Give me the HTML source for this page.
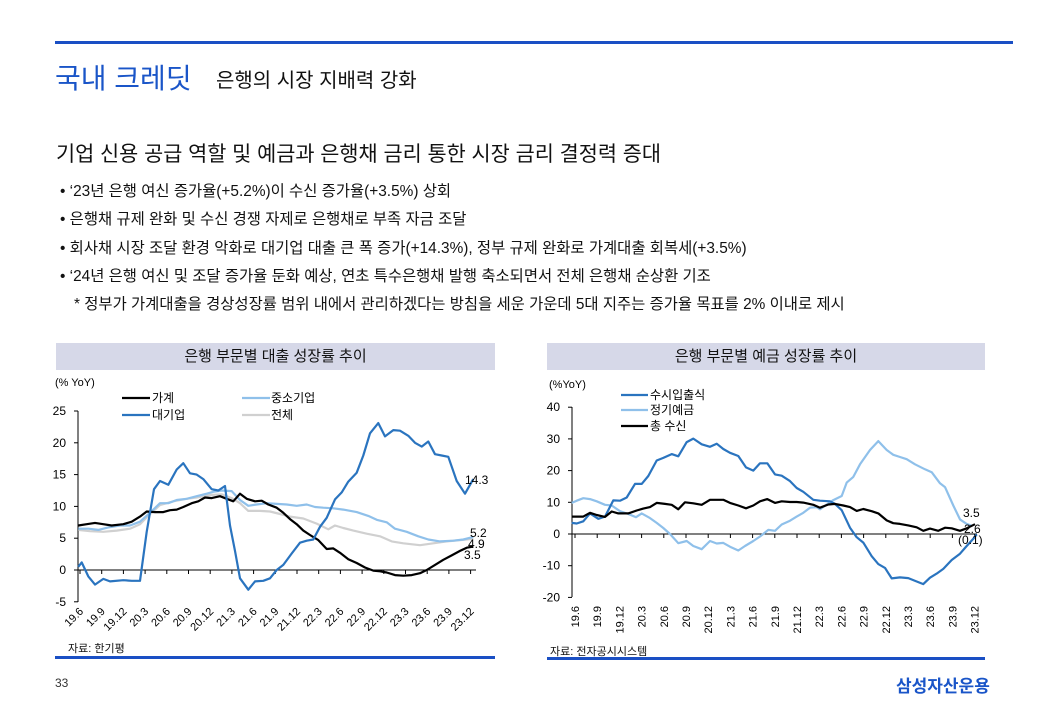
<!DOCTYPE html>
<html><head><meta charset="utf-8"><style>
body{margin:0;width:1040px;height:720px;background:#fff;position:relative;overflow:hidden;font-family:"Liberation Sans","Noto Sans CJK KR",sans-serif;color:#111}
.a{position:absolute;white-space:nowrap}
.b{font-size:15.4px}
</style></head><body>
<div class="a" style="left:55px;top:41px;width:958px;height:3px;background:#1a4fc4"></div>
<div class="a" style="left:55px;top:57px;font-size:28px;color:#1a55c8">국내 크레딧</div>
<div class="a" style="left:216px;top:64px;font-size:20px">은행의 시장 지배력 강화</div>
<div class="a" style="left:56px;top:137px;font-size:20.8px">기업 신용 공급 역할 및 예금과 은행채 금리 통한 시장 금리 결정력 증대</div>
<div class="a b" style="left:60px;top:179px">• ‘23년 은행 여신 증가율(+5.2%)이 수신 증가율(+3.5%) 상회</div>
<div class="a b" style="left:60px;top:207px">• 은행채 규제 완화 및 수신 경쟁 자제로 은행채로 부족 자금 조달</div>
<div class="a b" style="left:60px;top:236px">• 회사채 시장 조달 환경 악화로 대기업 대출 큰 폭 증가(+14.3%), 정부 규제 완화로 가계대출 회복세(+3.5%)</div>
<div class="a b" style="left:60px;top:264px">• ‘24년 은행 여신 및 조달 증가율 둔화 예상, 연초 특수은행채 발행 축소되면서 전체 은행채 순상환 기조</div>
<div class="a b" style="left:74px;top:292px">* 정부가 가계대출을 경상성장률 범위 내에서 관리하겠다는 방침을 세운 가운데 5대 지주는 증가율 목표를 2% 이내로 제시</div>
<div class="a" style="left:56px;top:343px;width:439px;height:27px;background:#d6d8e8;text-align:center;font-size:15px;line-height:27px">은행 부문별 대출 성장률 추이</div>
<div class="a" style="left:547px;top:343px;width:438px;height:27px;background:#d6d8e8;text-align:center;font-size:15px;line-height:27px">은행 부문별 예금 성장률 추이</div>
<div class="a" style="left:55px;top:656px;width:440px;height:3px;background:#1a4fc4"></div>
<div class="a" style="left:547px;top:657px;width:438px;height:3px;background:#1a4fc4"></div>
<div class="a" style="left:68px;top:640px;font-size:11px">자료: 한기평</div>
<div class="a" style="left:550px;top:643px;font-size:11px">자료: 전자공시시스템</div>
<div class="a" style="left:55px;top:676px;font-size:12px;color:#333">33</div>
<div class="a" style="left:896px;top:672px;font-size:17px;font-weight:bold;color:#1a55c8">삼성자산운용</div>
<svg id="s" class="a" style="left:0;top:0" width="1040" height="720" font-family="Liberation Sans, Noto Sans CJK KR, sans-serif" font-size="12"></svg>
<script>
var s=document.getElementById('s'),h='';
function L(x1,y1,x2,y2,c,w){h+='<line x1="'+x1+'" y1="'+y1+'" x2="'+x2+'" y2="'+y2+'" stroke="'+c+'" stroke-width="'+(w||1)+'"/>';}
function T(x,y,t,a,ex){h+='<text x="'+x+'" y="'+y+'" text-anchor="'+(a||'start')+'" '+(ex||'')+'>'+t+'</text>';}
function P(pts,ox,z,sc,c){var p=[];for(var i=0;i<pts.length;i+=2)p.push((ox+pts[i]/3).toFixed(1)+','+(z-pts[i+1]*sc).toFixed(1));h+='<polyline points="'+p.join(' ')+'" fill="none" stroke="'+c+'" stroke-width="2.2" stroke-linejoin="round"/>';}
var z1=570,s1=6.36;
L(78,411,78,602,'#000');L(78,z1,476,z1,'#000');
[25,20,15,10,5,0,-5].forEach(function(v){var y=z1-v*s1;L(74,y,78,y,'#000');T(66,y+4,v,'end');});
var lq=['19.6','19.9','19.12','20.3','20.6','20.9','20.12','21.3','21.6','21.9','21.12','22.3','22.6','22.9','22.12','23.3','23.6','23.9','23.12'];
lq.forEach(function(t,k){var x=80+k*21.7;L(x,z1,x,z1+4,'#000');T(x+4,612,t,'end','font-size="11" transform="rotate(-45 '+(x+4)+' 612)"');});
T(55,386,'(% YoY)','start','font-size="11"');
L(122,398,150,398,'#000',2.2);L(122,415,150,415,'#2a74bf',2.2);L(242,398,270,398,'#8fc0ea',2.2);L(242,415,270,415,'#d0d0d0',2.2);
T(152,402,'가계');T(152,419,'대기업');T(271,402,'중소기업');T(271,419,'전체');
P([115,6.3,150,6.1,190,6,230,6.2,270,6.5,300,7.2,330,8.8,360,10.2,400,10.8,440,11.2,470,11.4,510,11.8,545,11.9,575,11.3,600,10.5,625,9.3,660,9.3,690,9.2,720,8.8,750,8.4,790,8.1,830,7.3,865,6.4,885,7,910,6.6,940,6.2,980,5.7,1020,5.3,1055,4.5,1090,4.2,1140,3.9,1180,4.2,1220,4.5,1260,4.7,1300,4.9],40,z1,s1,'#d0d0d0');
P([115,6.5,145,6.5,175,6.3,205,6.7,240,7,270,7,300,7.6,330,9,360,10.5,385,10.5,410,11,440,11.2,470,11.6,500,12,520,12.3,545,12.5,575,12.4,600,11,625,10.1,650,10.3,680,10.5,710,10.4,740,10.3,770,10.1,800,10.3,825,9.9,850,9.8,880,9.7,910,9.5,950,9.1,985,8.5,1010,7.9,1040,7.5,1065,6.5,1100,6,1135,5.3,1165,4.8,1200,4.5,1240,4.6,1270,4.8,1300,5.2],40,z1,s1,'#8fc0ea');
P([115,7,140,7.2,165,7.4,190,7.2,215,7,250,7.2,275,7.6,300,8.4,320,9.2,345,9.1,370,9.1,390,9.4,410,9.5,430,9.9,455,10.5,475,10.8,495,11.4,515,11.3,540,11.6,560,11.2,580,10.8,600,12,620,11.2,645,10.8,665,10.9,685,10.3,710,9.8,730,9,750,8,770,7.2,790,6.2,810,5.5,835,4.7,860,3.3,880,3.4,900,2.7,925,1.7,950,1.1,975,0.4,1000,-0.1,1020,-0.2,1040,-0.4,1065,-0.8,1090,-0.9,1115,-0.8,1140,-0.5,1160,0,1185,0.8,1210,1.6,1235,2.3,1260,3,1280,3.5,1300,3.7],40,z1,s1,'#000');
P([115,0.5,125,1.2,145,-1,165,-2.3,190,-1.4,210,-1.8,250,-1.6,275,-1.7,300,-1.7,320,6,342,12.7,360,14,385,13.4,410,15.8,430,16.8,450,15.2,470,15,490,14.3,515,12.7,535,12.5,555,13.2,570,7,585,3,600,-1.3,625,-3.1,645,-1.8,670,-1.7,690,-1.3,710,0,730,0.8,755,2.6,780,4.3,800,4.6,820,4.8,840,6.8,860,8.2,885,11.1,905,12.2,925,13.9,950,15.3,970,18,990,21.5,1015,23.1,1035,21,1060,22,1080,21.9,1105,21.1,1125,20,1145,19.4,1165,20.2,1185,18.2,1205,18,1225,17.8,1250,14,1275,12,1300,14.3],40,z1,s1,'#2a74bf');
T(465,484,'14.3');T(470,537,'5.2');T(468,548,'4.9');T(464,559,'3.5');
var z2=534,s2=3.17;
L(572,407,572,597,'#000');L(572,z2,977,z2,'#000');
[40,30,20,10,0,-10,-20].forEach(function(v){var y=z2-v*s2;L(568,y,572,y,'#000');T(560,y+4,v,'end');});
lq.forEach(function(t,k){var x=575+k*22.2;L(x,z2,x,z2+4,'#000');T(x+4,606,t,'end','font-size="11" transform="rotate(-90 '+(x+4)+' 606)"');});
T(549,388,'(%YoY)','start','font-size="11"');
L(621,395,648,395,'#2a74bf',2.2);L(621,410,648,410,'#8fc0ea',2.2);L(621,426,648,426,'#000',2.2);
T(650,399,'수시입출식');T(650,414,'정기예금');T(650,430,'총 수신');
P([125,9.8,140,10.5,160,11.3,180,11,200,10.3,225,9.2,245,9,270,7.2,295,6.3,318,5.3,335,6.5,360,5,380,3.5,400,1.9,420,0,445,-2.9,470,-2.2,490,-3.8,515,-4.8,540,-2.2,560,-3,580,-2.8,600,-4,625,-5.2,645,-3.8,670,-2.2,690,-0.8,715,1.3,735,1,755,3,780,4.2,800,5.5,820,6.7,840,8.3,860,8.5,870,7.8,890,9.3,910,10.7,935,12,950,16.2,970,18,990,22,1020,26.5,1045,29.3,1070,26.5,1090,25,1110,24.3,1130,23.6,1155,22,1185,20.4,1205,19.5,1230,16,1245,14.8,1270,9,1290,4.6,1310,3.2,1325,2.6],530,z2,s2,'#8fc0ea');
P([125,3.5,140,3.3,160,4,180,6.5,205,4.8,225,5.5,250,10.6,270,10.5,290,11.5,315,15.8,335,15.8,355,18.3,380,23.2,400,24,425,25.2,445,24.5,470,29,490,30.1,515,28.3,540,27.5,560,28.5,580,26.8,600,25.6,625,24.6,648,21,670,20,690,22.3,712,22.3,735,18.8,755,18.4,780,16.7,800,14.5,820,13.3,850,10.8,870,10.5,900,10.3,915,9.5,935,7.5,960,2,980,-1,1000,-2.7,1025,-7,1045,-9.5,1065,-10.7,1085,-14,1110,-13.7,1135,-13.9,1160,-15,1180,-15.8,1200,-13.8,1220,-12.5,1240,-11,1265,-8.2,1290,-6.2,1310,-3.8,1330,-1.5,1340,-0.1],530,z2,s2,'#2a74bf');
P([125,5.5,160,5.5,180,6.7,200,6,225,5.4,245,7.1,265,6.5,295,6.5,320,7.4,340,8,360,8.5,380,9.8,405,9.5,425,9.2,445,7.8,465,10,490,9.7,515,9.2,540,10.8,560,10.8,580,10.8,600,9.8,625,9,648,8.1,670,9,690,10.3,712,11,735,9.8,755,10.3,780,10.1,800,10.1,820,9.9,850,9.2,870,8.3,895,9.3,915,9.5,940,9,960,8.5,980,7.3,1000,7.9,1025,7.2,1045,6.5,1070,4.3,1090,3.4,1110,3.2,1135,2.7,1160,2.1,1180,1,1200,1.7,1225,1,1245,2,1265,1.8,1290,1,1310,1.8,1335,3.1],530,z2,s2,'#000');
T(963,517,'3.5');T(964,533,'2.6');T(958,544,'(0.1)');
s.innerHTML=h;
</script>
</body></html>
